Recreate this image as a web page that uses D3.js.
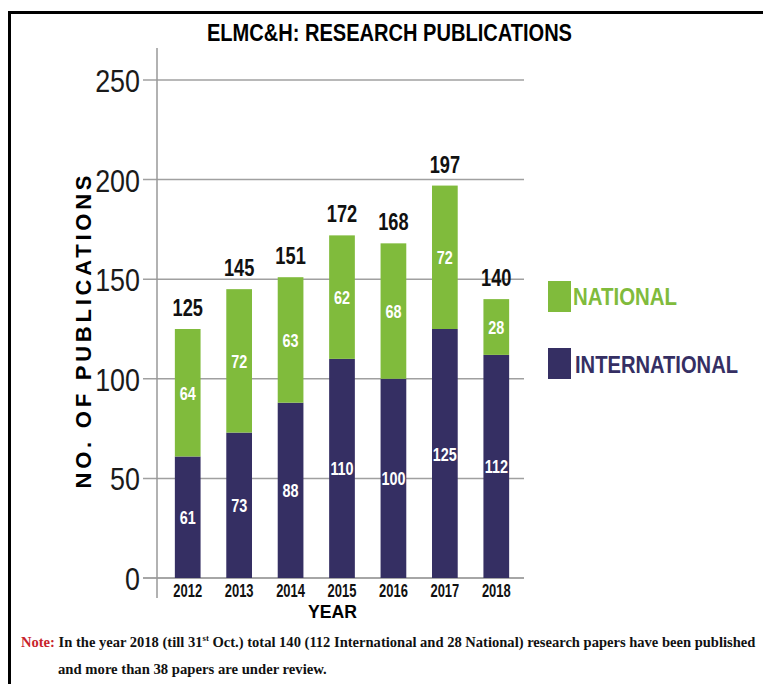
<!DOCTYPE html>
<html>
<head>
<meta charset="utf-8">
<script src="https://cdn.jsdelivr.net/npm/d3@7"></script>
<style>
  body { margin: 0; background: #fff; }
  svg { display: block; }
</style>
</head>
<body>
<div id="chart"></div>
<script>
// data
const years = ["2012", "2013", "2014", "2015", "2016", "2017", "2018"];
const international = [61, 73, 88, 110, 100, 125, 112];
const national = [64, 72, 63, 62, 68, 72, 28];
const yTicks = [0, 50, 100, 150, 200, 250];
const seriesNames = ["NATIONAL", "INTERNATIONAL"];

const W = 763, H = 684;
const green = "#80bb3c", purple = "#352f63";
const sans = "'Liberation Sans', Arial, sans-serif";
const serif = "'Liberation Serif', 'DejaVu Serif', serif";

const svg = d3.select("#chart")
  .append("svg")
    .attr("width", W)
    .attr("height", H);

// squeezed text, to look like Arial Narrow
function narrowText(g, px, py, str, size, sx, opts = {}) {
  return g.append("text")
    .attr("transform", `translate(${px},${py}) scale(${sx},1)`)
    .attr("text-anchor", opts.anchor || "middle")
    .attr("font-family", sans)
    .attr("font-weight", opts.weight || "bold")
    .attr("font-size", size)
    .attr("fill", opts.fill || "#111")
    .text(str);
}

// squeeze a left-anchored text to a given width
function fitWidth(t, px, py, width) {
  const len = t.node().getComputedTextLength();
  t.attr("transform", `translate(${px},${py}) scale(${Math.min(1, width / len)},1)`);
}

// frame
svg.append("rect")
  .attr("x", 9.5).attr("y", 12.5)
  .attr("width", W + 20).attr("height", H + 20)
  .attr("fill", "none")
  .attr("stroke", "#000")
  .attr("stroke-width", 3);

// title
svg.append("text")
  .attr("x", 207).attr("y", 41)
  .attr("font-family", sans)
  .attr("font-weight", "bold")
  .attr("font-size", 24)
  .attr("textLength", 365)
  .attr("lengthAdjust", "spacingAndGlyphs")
  .text("ELMC&H: RESEARCH PUBLICATIONS");

// scales
const x = d3.scaleBand()
  .domain(years)
  .range([162, 522])
  .paddingInner(0.5)
  .paddingOuter(0.25);

const y = d3.scaleLinear()
  .domain([0, 250])
  .range([578, 80]);

// gridlines
svg.append("g")
  .selectAll("line")
  .data(yTicks)
  .enter()
  .append("line")
    .attr("x1", 143).attr("x2", 524)
    .attr("y1", d => y(d)).attr("y2", d => y(d))
    .attr("stroke", d => d === 0 ? "#888" : "#a0a0a0")
    .attr("stroke-width", 1.5);

// y axis line
svg.append("line")
  .attr("x1", 157).attr("x2", 157)
  .attr("y1", 48).attr("y2", 598)
  .attr("stroke", "#999")
  .attr("stroke-width", 1.5);

// y tick labels
const yLab = svg.append("g");
yTicks.forEach(t => narrowText(yLab, 140, y(t) + 12, t, 32, 0.84,
  { anchor: "end", weight: "normal", fill: "#1a1a1a" }));

// y axis title
svg.append("text")
  .attr("transform", "translate(91,332) rotate(-90)")
  .attr("text-anchor", "middle")
  .attr("font-family", sans)
  .attr("font-weight", "bold")
  .attr("font-size", 22)
  .attr("textLength", 313)
  .attr("lengthAdjust", "spacing")
  .text("NO. OF PUBLICATIONS");

const bars = years.map((yr, i) => ({
  year: yr,
  intl: international[i],
  nat: national[i],
  total: international[i] + national[i]
}));

// international segment
svg.append("g")
  .selectAll("rect")
  .data(bars)
  .enter()
  .append("rect")
    .attr("x", d => x(d.year))
    .attr("y", d => y(d.intl))
    .attr("width", x.bandwidth())
    .attr("height", d => y(0) - y(d.intl))
    .attr("fill", purple);

// national segment
svg.append("g")
  .selectAll("rect")
  .data(bars)
  .enter()
  .append("rect")
    .attr("x", d => x(d.year))
    .attr("y", d => y(d.total))
    .attr("width", x.bandwidth())
    .attr("height", d => y(d.intl) - y(d.total))
    .attr("fill", green);

// value labels
const cx = d => x(d.year) + x.bandwidth() / 2;
const labels = svg.append("g");
bars.forEach(d => {
  narrowText(labels, cx(d), (y(d.intl) + y(0)) / 2 + 7, d.intl, 18, 0.8, { fill: "#fff" });
  narrowText(labels, cx(d), (y(d.total) + y(d.intl)) / 2 + 7, d.nat, 18, 0.8, { fill: "#fff" });
  narrowText(labels, cx(d), y(d.total) - 13, d.total, 24, 0.76);
});

// x tick labels
const xLab = svg.append("g");
years.forEach(yr => narrowText(xLab, x(yr) + x.bandwidth() / 2, 597, yr, 18, 0.72));

// x axis title
svg.append("text")
  .attr("x", 308).attr("y", 618)
  .attr("font-family", sans)
  .attr("font-weight", "bold")
  .attr("font-size", 18)
  .attr("textLength", 49)
  .attr("lengthAdjust", "spacingAndGlyphs")
  .text("YEAR");

// legend
const legendWidths = [104, 163];
const legend = svg.append("g")
  .selectAll("g")
  .data(seriesNames)
  .enter()
  .append("g")
    .attr("transform", (d, i) => `translate(548,${281 + i * 67})`);

legend.append("rect")
  .attr("width", 23).attr("height", 31)
  .attr("fill", (d, i) => i === 0 ? green : purple);

legend.append("text")
  .attr("x", (d, i) => 25 + i * 2).attr("y", (d, i) => 24 + i)
  .attr("font-family", sans)
  .attr("font-weight", "bold")
  .attr("font-size", 23)
  .attr("textLength", (d, i) => legendWidths[i])
  .attr("lengthAdjust", "spacingAndGlyphs")
  .attr("fill", (d, i) => i === 0 ? green : purple)
  .text(d => d);

// note
const note1 = svg.append("text")
  .attr("font-family", serif)
  .attr("font-weight", "bold")
  .attr("font-size", 15);
note1.append("tspan").attr("fill", "#c8232c").text("Note: ");
note1.append("tspan").attr("fill", "#111").text("In the year 2018 (till 31");
note1.append("tspan").attr("fill", "#111").attr("font-size", 9).attr("dy", -6).text("st");
note1.append("tspan").attr("fill", "#111").attr("dy", 6)
  .text(" Oct.) total 140 (112 International and 28 National) research papers have been published");
fitWidth(note1, 21, 647, 735);

const note2 = svg.append("text")
  .attr("font-family", serif)
  .attr("font-weight", "bold")
  .attr("font-size", 15)
  .attr("fill", "#111")
  .text("and more than 38 papers are under review.");
fitWidth(note2, 58, 674, 269);
</script>
</body>
</html>
